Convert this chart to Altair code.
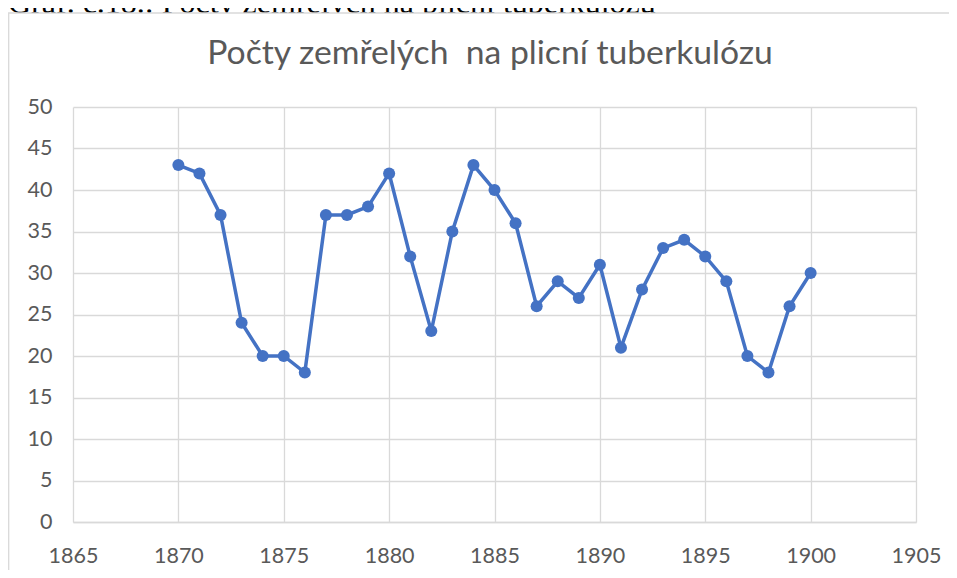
import altair as alt
import pandas as pd

years = list(range(1870, 1901))
deaths = [43, 42, 37, 24, 20, 20, 18, 37, 37, 38, 42, 32, 23, 35, 43, 40, 36,
          26, 29, 27, 31, 21, 28, 33, 34, 32, 29, 20, 18, 26, 30]

x_ticks = list(range(1865, 1906, 5))
y_ticks = list(range(0, 51, 5))

title_text = "Počty zemřelých\u00a0 na plicní tuberkulózu"
caption_text = "Graf. č.18.: Počty zemřelých na plicní tuberkulózu"

df = pd.DataFrame({"year": years, "deaths": deaths})

FONT = "Lato"
LINE = "#4472C4"
GRID = "#d9d9d9"
TEXT = "#595959"

x_enc = alt.X("year:Q",
              scale=alt.Scale(domain=[1865, 1905], nice=False, zero=False),
              axis=alt.Axis(values=x_ticks, format="d", title=None, grid=True,
                            gridColor=GRID, gridWidth=1.3, domainColor=GRID,
                            domainWidth=1.5, ticks=False, labelFont=FONT,
                            labelFontSize=21.5, labelColor=TEXT, labelPadding=23,
                            labelFlush=False))
y_enc = alt.Y("deaths:Q",
              scale=alt.Scale(domain=[0, 50], nice=False),
              axis=alt.Axis(values=y_ticks, title=None, grid=True,
                            gridColor=GRID, gridWidth=1.3, domain=False,
                            ticks=False, labelFont=FONT, labelFontSize=21.5,
                            labelColor=TEXT, labelPadding=21))

one = alt.Data(values=[{"k": 1}])

caption = alt.Chart(one).mark_text(font="Liberation Serif", fontSize=32, align="left",
                                   baseline="alphabetic", color="#000000").encode(
    x=alt.value(-65), y=alt.value(-94.5), text=alt.value(caption_text))

# white chart background covering the caption's lower part
cover = alt.Chart(one).mark_rect(fill="white", strokeWidth=0).encode(
    x=alt.value(-64.3), x2=alt.value(1100), y=alt.value(-94), y2=alt.value(-80))

frame = alt.Chart(one).mark_rect(fillOpacity=0, stroke=GRID, strokeWidth=1.3).encode(
    x=alt.value(-64.3), x2=alt.value(1100), y=alt.value(-94), y2=alt.value(800))

title = alt.Chart(one).mark_text(font=FONT, fontSize=33.7, align="center",
                                 baseline="alphabetic", color=TEXT).encode(
    x=alt.value(417), y=alt.value(-42.7), text=alt.value(title_text))

line = alt.Chart(df).mark_line(color=LINE, strokeWidth=3.5).encode(x=x_enc, y=y_enc)
points = alt.Chart(df).mark_point(filled=True, color=LINE, size=145, opacity=1).encode(
    x="year:Q", y="deaths:Q")

chart = alt.layer(caption, cover, frame, title, line, points).properties(
    width=843, height=415,
    autosize=alt.AutoSizeParams(type="none"),
    padding={"left": 65, "top": 99, "right": 33, "bottom": 48},
    background="white",
).configure_view(stroke=None)

chart.save("out.html", embed_options={"renderer": "svg", "actions": False})
